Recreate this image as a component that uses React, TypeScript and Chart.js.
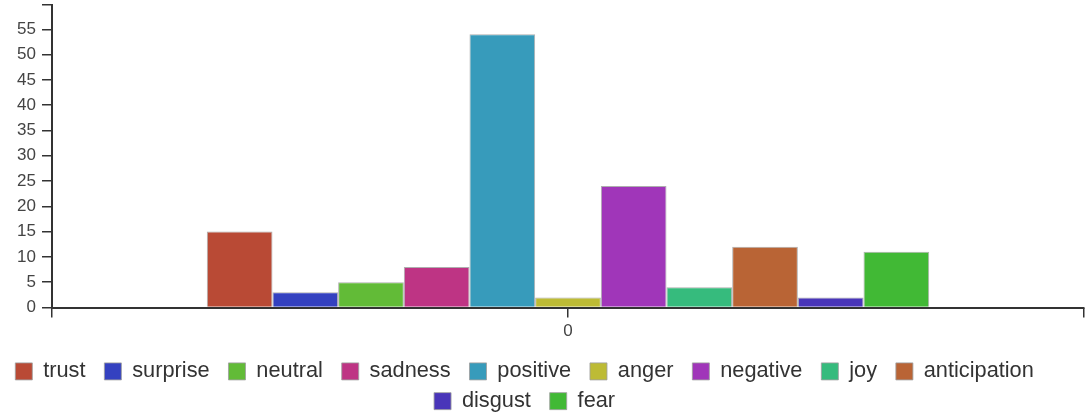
import { useEffect, useRef } from 'react';
import { Chart, registerables } from 'chart.js';

Chart.register(...registerables);

const categories = ['0'];
const emotions = ['trust', 'surprise', 'neutral', 'sadness', 'positive', 'anger', 'negative', 'joy', 'anticipation', 'disgust', 'fear'];
const counts = [15, 3, 5, 8, 54, 2, 24, 4, 12, 2, 11];
const colors = ['#b94a35', '#3441c0', '#62bb37', '#be3484', '#379bbb', '#bdbb35', '#a036b9', '#36bb7d', '#b96435', '#4935b9', '#41b935'];
const yMax = 59.8;
const yStep = 5;

const legendNudge = {
  id: 'legendNudge',
  afterLayout(chart: any) {
    const l = chart.legend;
    if (!l) return;
    l.top += 6;
    l.bottom += 6;
    l.left -= 12;
    l.right -= 12;
  },
};

export default function App() {
  const ref = useRef<HTMLCanvasElement | null>(null);

  useEffect(() => {
    document.body.style.margin = '0';
    const canvas = ref.current;
    if (!canvas) return;
    Chart.defaults.font.family = '"Liberation Sans", Arial, sans-serif';
    const chart = new Chart(canvas, {
      type: 'bar',
      data: {
        labels: categories,
        datasets: emotions.map((name, i) => ({
          label: name,
          data: [counts[i]],
          backgroundColor: colors[i],
          borderColor: 'rgba(160,160,160,0.85)',
          borderWidth: 1,
          barPercentage: 1,
          categoryPercentage: 0.7,
        })),
      },
      options: {
        animation: false,
        responsive: true,
        maintainAspectRatio: false,
        layout: { padding: { top: 5, right: 3, left: 0, bottom: 0 } },
        scales: {
          x: {
            type: 'category',
            position: 'bottom',
            weight: 1,
            offset: true,
            grid: { display: true, drawOnChartArea: false, offset: false, tickLength: 10, color: '#333', lineWidth: 1.5 },
            border: { display: true, color: '#333', width: 2 },
            ticks: { color: '#444', font: { size: 17 }, padding: 4 },
            afterFit: (s: any) => { s.height = 39; },
          },
          x2: {
            type: 'category',
            position: 'bottom',
            weight: 0,
            offset: true,
            grid: { display: true, drawOnChartArea: false, offset: true, tickLength: 10, color: '#333', lineWidth: 1.5 },
            border: { display: false },
            ticks: { display: false },
            afterFit: (s: any) => { s.height = 0; },
          },
          y: {
            min: 0,
            max: yMax,
            grid: { display: true, drawOnChartArea: false, tickLength: 10, color: '#333', lineWidth: 1.5 },
            border: { display: true, color: '#333', width: 2 },
            ticks: {
              stepSize: yStep,
              color: '#444',
              font: { size: 17 },
              padding: 6,
              callback: (v: any) => (Number(v) % yStep === 0 ? String(v) : ''),
            },
            afterFit: (s: any) => { s.width = 52; s.paddingTop = 0; },
          },
        },
        plugins: {
          legend: {
            position: 'bottom',
            labels: {
              boxWidth: 17,
              boxHeight: 17,
              padding: 8,
              color: '#333',
              font: { size: 21.75 },
              generateLabels: (c: any) =>
                (Chart.defaults.plugins.legend.labels as any).generateLabels(c).map((it: any) => ({ ...it, text: it.text + '\u2002' })),
            },
          },
          tooltip: { enabled: false },
        },
      },
      plugins: [legendNudge],
    } as any);
    return () => chart.destroy();
  }, []);

  return (
    <div style={{ position: 'relative', width: '1087px', height: '416px' }}>
      <canvas ref={ref} />
    </div>
  );
}
